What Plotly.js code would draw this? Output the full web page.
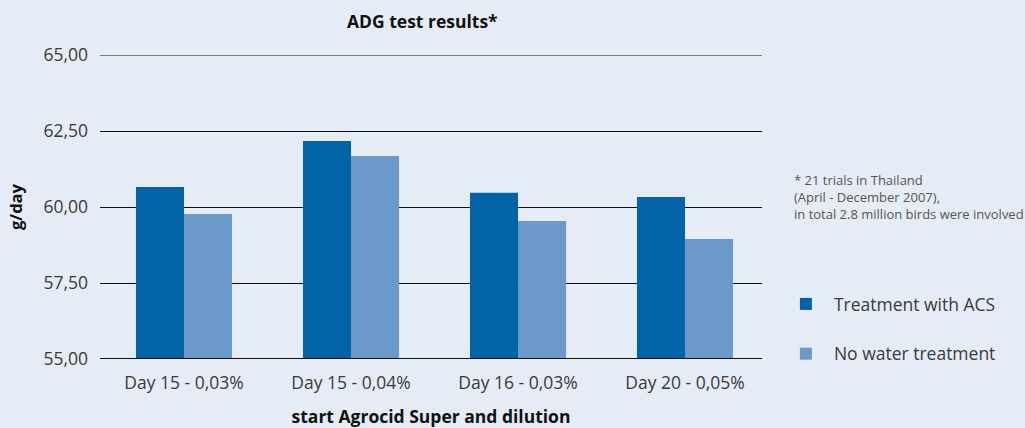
<!DOCTYPE html>
<html>
<head>
<meta charset="utf-8">
<script src="https://cdn.plot.ly/plotly-3.0.1.min.js"></script>
<style>html,body{margin:0;padding:0;background:#e6ecf6;}#chart{width:1025px;height:428px;}</style>
</head>
<body>
<div id="chart"></div>
<script>
const categories = ["Day 15 - 0,03%", "Day 15 - 0,04%", "Day 16 - 0,03%", "Day 20 - 0,05%"];
const treatmentACS = [60.66, 62.17, 60.47, 60.33];
const noTreatment = [59.77, 61.68, 59.54, 58.95];
const seriesNames = ["Treatment with ACS", "No water treatment"];
const yTicks = [55, 57.5, 60, 62.5, 65];

const FONT = "Open Sans, Noto Sans, sans-serif";
const traces = [
  {type: "bar", name: seriesNames[0], legendgroup: "a", x: categories, y: treatmentACS, marker: {color: "#0263a6"}, hoverinfo: "y"},
  {type: "bar", name: seriesNames[1], legendgroup: "b", x: categories, y: noTreatment, marker: {color: "#6a99ca"}, hoverinfo: "y"}
];
const layout = {
  width: 1025, height: 428,
  paper_bgcolor: "#e6ecf6", plot_bgcolor: "#e6ecf6",
  margin: {l: 100, r: 263, t: 55, b: 69},
  separators: ",.",
  barmode: "group", bargap: 0.425, bargroupgap: 0,
  font: {family: FONT, color: "#3a3a3a", size: 17},
  title: {text: "<b>ADG test results*</b>", x: 0.412, xanchor: "center", y: 0.948, yanchor: "middle", font: {family: FONT, size: 17.5, color: "#111"}},
  xaxis: {
    type: "category", range: [-0.503, 3.461],
    showgrid: false, zeroline: false, showline: false,
    ticks: "", ticklabelstandoff: 11,
    tickfont: {family: FONT, size: 17.5, color: "#3a3a3a"},
    title: {text: "<b>start Agrocid Super and dilution</b>", standoff: 20, font: {family: FONT, size: 17.5, color: "#111"}}
  },
  yaxis: {
    range: [55, 65], tickvals: yTicks, tickformat: ".2f",
    showgrid: true, gridcolor: "#111", gridwidth: 1, zeroline: false,
    showline: false, ticks: "", ticklabelstandoff: 11,
    tickfont: {family: FONT, size: 17.5, color: "#3a3a3a"},
    title: {text: "<b>g/day</b>", standoff: 16, font: {family: FONT, size: 16.5, color: "#111"}}
  },
  shapes: [
    {type: "line", xref: "paper", yref: "y", x0: 0, x1: 1, y0: 55, y1: 55, line: {color: "#111", width: 2}},
    {type: "line", xref: "paper", yref: "y", x0: 0, x1: 1, y0: 65, y1: 65, line: {color: "#111", width: 1}}
  ],
  legend: {x: 1.024, xanchor: "left", y: 0.24, yanchor: "top", font: {family: FONT, size: 17.5, color: "#3a3a3a"}, tracegroupgap: 24, itemwidth: 46, bgcolor: "rgba(0,0,0,0)"},
  annotations: [
    {xref: "paper", yref: "paper", x: 1.045, xanchor: "left", y: 0.625, yanchor: "top", align: "left", showarrow: false,
     text: "* 21 trials in Thailand<br>(April - December 2007),<br>in total 2.8 million birds were involved",
     font: {family: FONT, size: 13, color: "#555"}}
  ],
  showlegend: true
};
Plotly.newPlot("chart", traces, layout, {displayModeBar: false, responsive: false});
</script>
</body>
</html>
